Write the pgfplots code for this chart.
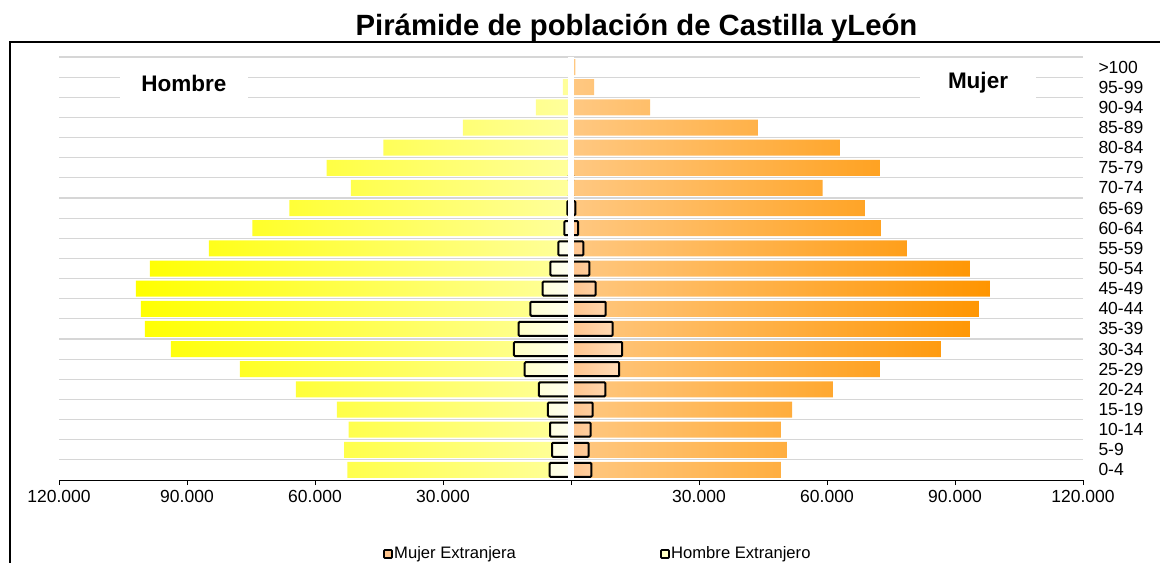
\documentclass[border=0pt]{standalone}
\usepackage{pgfplots}
\usepackage{pgfplotstable}
\pgfplotsset{compat=1.18}
\usepackage{fontspec}
\setmainfont{Liberation Sans}
\definecolor{myel}{HTML}{FFFF00}
\definecolor{myelpale}{HTML}{FFFF9C}
\definecolor{orpale}{HTML}{FFC882}
\definecolor{ordark}{HTML}{FF9500}
\definecolor{fmA}{HTML}{FFFFC4}
\definecolor{fmB}{HTML}{FFFFF2}
\definecolor{fwA}{HTML}{FFC48C}
\definecolor{fwB}{HTML}{FFDDBB}
\definecolor{gridc}{HTML}{D6D6D6}

% y: 0 = 0-4 ... 20 = >100 ; hm = Hombre, mu = Mujer, hx = Hombre extranjero, mx = Mujer extranjera
\pgfplotstableread{
y hm mu hx mx
0 52400 49200 5000 4760
1 53200 50600 4450 4140
2 52100 49200 4920 4600
3 54900 51800 5390 5080
4 64500 61400 7500 8040
5 77600 72400 10850 11300
6 93800 86700 13360 12000
7 99900 93500 12260 9760
8 100800 95600 9520 8120
9 102000 98200 6640 5780
10 98700 93500 4840 4300
11 84900 78700 2970 2900
12 74650 72600 1570 1700
13 66000 68900 870 1000
14 51600 59000 300 300
15 57300 72400 200 200
16 43950 63000 0 0
17 25360 43800 0 0
18 8250 18550 0 0
19 1900 5400 0 0
20 300 1000 0 0
}\pyr

\begin{document}
\begin{tikzpicture}[x=1bp,y=1bp]
\useasboundingbox (0,0) rectangle (1160,-563);
\node[font=\fontsize{29.3bp}{32bp}\selectfont\bfseries] at (636.5,-28) {Pirámide de población de Castilla yLeón};
\draw[line width=2bp] (10,-563) -- (10,-42) -- (1160,-42);
\begin{axis}[
  at={(59bp,-480bp)}, anchor=south west,
  scale only axis, width=1024bp, height=423bp,
  xmin=-120000, xmax=120000, ymin=-0.5, ymax=20.5,
  axis x line*=bottom, axis y line*=right,
  x axis line style={line width=1bp, black},
  y axis line style={draw=none},
  scaled x ticks=false,
  xtick={-120000,-90000,-60000,-30000,0,30000,60000,90000,120000},
  xticklabels={120.000,90.000,60.000,30.000,,30.000,60.000,90.000,120.000},
  xtick style={black, line width=0.8bp},
  tick align=outside, major tick length=5bp,
  xticklabel style={font=\fontsize{17.5bp}{19bp}\selectfont, yshift=-2bp},
  ytick={0,...,20},
  yticklabels={0-4,5-9,10-14,15-19,20-24,25-29,30-34,35-39,40-44,45-49,50-54,55-59,60-64,65-69,70-74,75-79,80-84,85-89,90-94,95-99,>100},
  ytick style={draw=none},
  yticklabel style={font=\fontsize{17.5bp}{19bp}\selectfont, anchor=west, xshift=7bp},
  minor ytick={0.5,1.5,...,19.5,20.5},
  yminorgrids=true, minor tick length=0pt,
  minor grid style={gridc, line width=1.2bp},
  xbar, bar shift=0pt,
]
\addplot[xbar, bar width=16bp, draw=none, left color=orpale, right color=ordark] table[x=mu, y=y] {\pyr};
\addplot[xbar, bar width=16bp, draw=none, left color=myel, right color=myelpale] table[x expr=-\thisrow{hm}, y=y] {\pyr};
\addplot[xbar, bar width=14bp, draw=black, line width=2bp, rounded corners=1bp, left color=fwA, right color=fwB] table[x=mx, y=y] {\pyr};
\addplot[xbar, bar width=14bp, draw=black, line width=2bp, rounded corners=1bp, left color=fmA, right color=fmB] table[x expr=-\thisrow{hx}, y=y] {\pyr};
\draw[white, line width=5.5bp] (axis cs:0,-0.5) -- (axis cs:0,20.5);
\end{axis}
\node[fill=white, minimum width=128bp, minimum height=36bp, inner sep=0pt, font=\fontsize{22.5bp}{24bp}\selectfont\bfseries] at (184,-83) {Hombre};
\node[fill=white, minimum width=116bp, minimum height=36bp, inner sep=0pt, font=\fontsize{22.5bp}{24bp}\selectfont\bfseries] at (978,-83) {Mujer};
% legend
\draw[black, line width=1.6bp, fill=fwA, rounded corners=0.8bp] (384,-550) rectangle (392,-558);
\node[anchor=west, inner sep=0pt, font=\fontsize{16.6bp}{18bp}\selectfont] at (394,-554) {Mujer Extranjera};
\draw[black, line width=1.6bp, fill=fmA, rounded corners=0.8bp] (661,-550) rectangle (669,-558);
\node[anchor=west, inner sep=0pt, font=\fontsize{16.6bp}{18bp}\selectfont] at (671,-554) {Hombre Extranjero};
\end{tikzpicture}
\end{document}
